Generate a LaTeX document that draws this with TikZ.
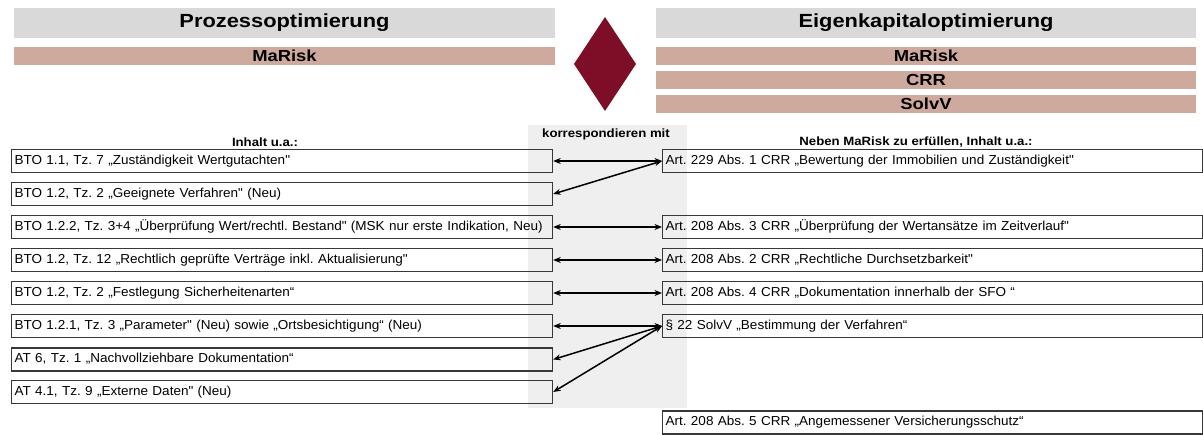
\documentclass[tikz,border=0pt]{standalone}
\usepackage{fontspec}
\setmainfont{Liberation Sans}
\newfontfamily\bodyfont[FakeStretch=1.04]{Liberation Sans}
\newfontfamily\capfont[FakeStretch=1.1]{Liberation Sans}
\newfontfamily\hdrfont[FakeStretch=1.15]{Liberation Sans}
\usetikzlibrary{arrows.meta}
\definecolor{hdrgray}{HTML}{D9D9D9}
\definecolor{rose}{HTML}{CDAA9D}
\definecolor{wine}{HTML}{7E0E27}
\definecolor{colgray}{HTML}{EFEFEF}
\definecolor{boxline}{HTML}{383838}
\frenchspacing
\begin{document}
\begin{tikzpicture}[x=1pt,y=-1pt,
  hdr/.style={fill=hdrgray, minimum height=30pt, inner sep=0pt,
    font=\hdrfont\bfseries\fontsize{19}{22}\selectfont},
  law/.style={fill=rose, minimum height=18.5pt, inner sep=0pt,
    font=\hdrfont\bfseries\fontsize{16}{18}\selectfont},
  capt/.style={inner sep=0pt, font=\capfont\bfseries\fontsize{12}{14}\selectfont},
  lbox/.style={draw=boxline, line width=1.2pt, anchor=west, minimum height=23pt,
    text width=535pt, align=left, inner xsep=3pt, inner ysep=0pt,
    text height=9.5pt, text depth=2.8pt,
    font=\bodyfont\fontsize{13}{15}\selectfont},
  rbox/.style={lbox, text width=534pt},
  dbl/.style={line width=1.5pt, {Stealth[length=7.5pt,width=6pt]}-{Stealth[length=7.5pt,width=6pt]}}
]
\useasboundingbox (0,0) rectangle (1203,435);
% column background
\fill[colgray] (528,125) rectangle (687,408);
% headers
\node[hdr, minimum width=541pt] (tl) at (284.5,23) {Prozessoptimierung};
\node[law, minimum width=541pt] (ml) at (284.5,56) {MaRisk};
\node[hdr, minimum width=540pt] (tr) at (926,23) {Eigenkapitaloptimierung};
\node[law, minimum width=540pt] (mr) at (926,56) {MaRisk};
\node[law, minimum width=540pt] (cr) at (926,80) {CRR};
\node[law, minimum width=540pt] (sr) at (926,104) {SolvV};
% diamond
\fill[wine] (605,17) -- (636,64) -- (605,111) -- (574,64) -- cycle;
% captions
\node[capt] (cl) at (265,142) {Inhalt u.a.:};
\node[capt] (cm) at (606,134) {korrespondieren mit};
\node[capt] (cr2) at (916,142) {Neben MaRisk zu erfüllen, Inhalt u.a.:};
% left boxes
\node[lbox] (l1) at (11,161) {BTO 1.1, Tz. 7 „Zuständigkeit Wertgutachten"};
\node[lbox] (l2) at (11,194) {BTO 1.2, Tz. 2 „Geeignete Verfahren" (Neu)};
\node[lbox] (l3) at (11,227) {BTO 1.2.2, Tz. 3+4 „Überprüfung Wert/rechtl. Bestand" (MSK nur erste Indikation, Neu)};
\node[lbox] (l4) at (11,260) {BTO 1.2, Tz. 12 „Rechtlich geprüfte Verträge inkl. Aktualisierung"};
\node[lbox] (l5) at (11,293) {BTO 1.2, Tz. 2 „Festlegung Sicherheitenarten“};
\node[lbox] (l6) at (11,326) {BTO 1.2.1, Tz. 3 „Parameter" (Neu) sowie „Ortsbesichtigung“ (Neu)};
\node[lbox] (l7) at (11,359.5) {AT 6, Tz. 1 „Nachvollziehbare Dokumentation“};
\node[lbox] (l8) at (11,392) {AT 4.1, Tz. 9 „Externe Daten" (Neu)};
% right boxes
\node[rbox] (r1) at (662,161) {Art. 229 Abs. 1 CRR „Bewertung der Immobilien und Zuständigkeit"};
\node[rbox] (r3) at (662,227) {Art. 208 Abs. 3 CRR „Überprüfung der Wertansätze im Zeitverlauf"};
\node[rbox] (r4) at (662,260) {Art. 208 Abs. 2 CRR „Rechtliche Durchsetzbarkeit"};
\node[rbox] (r5) at (662,293) {Art. 208 Abs. 4 CRR „Dokumentation innerhalb der SFO “};
\node[rbox] (r6) at (662,326) {§ 22 SolvV „Bestimmung der Verfahren“};
\node[rbox] (r9) at (662,422.5) {Art. 208 Abs. 5 CRR „Angemessener Versicherungsschutz“};
% connectors
\draw[dbl] (l1.east) -- (r1.west);
\draw[dbl] (l2.east) -- (r1.west);
\draw[dbl] (l3.east) -- (r3.west);
\draw[dbl] (l4.east) -- (r4.west);
\draw[dbl] (l5.east) -- (r5.west);
\draw[dbl] (l6.east) -- (r6.west);
\draw[dbl] (l7.east) -- (r6.west);
\draw[dbl] (l8.east) -- (r6.west);
\end{tikzpicture}
\end{document}
